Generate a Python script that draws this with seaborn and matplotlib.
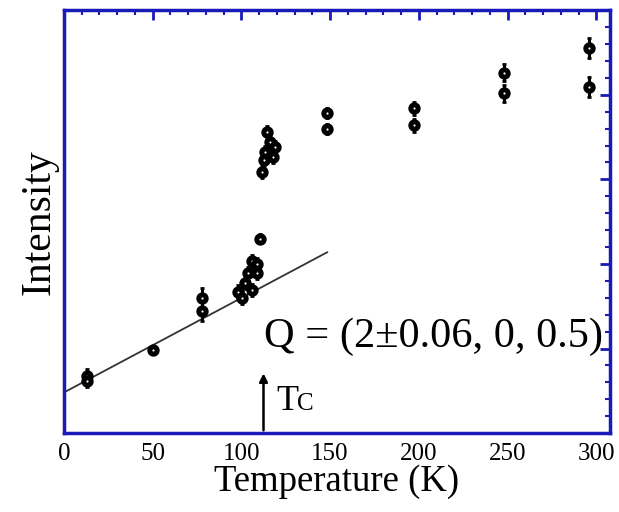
import numpy as np
import pandas as pd
import matplotlib
matplotlib.use("Agg")
import matplotlib.pyplot as plt
import seaborn as sns

# Data (arbitrary intensity units)
temperature = [13, 13, 50, 78, 78, 98, 100.6, 102, 104, 106, 106, 109, 109, 110.8,
               111.7, 112.6, 113.6, 114.7, 116.4, 118, 119,
               148, 148, 197, 197, 248, 248, 296, 296]
intensity = [0.68, 0.62, 0.98, 1.60, 1.45, 1.67, 1.60, 1.77, 1.89, 1.69, 2.04, 1.89, 2.00, 2.30,
             3.09, 3.23, 3.32, 3.56, 3.44, 3.26, 3.38,
             3.79, 3.60, 3.84, 3.64, 4.26, 4.02, 4.55, 4.09]
errors = [0.08, 0.08, 0.05, 0.12, 0.12, 0.08, 0.07, 0.07, 0.07, 0.07, 0.07, 0.07, 0.07, 0.05,
          0.07, 0.07, 0.07, 0.07, 0.07, 0.07, 0.07,
          0.06, 0.06, 0.08, 0.08, 0.10, 0.10, 0.12, 0.12]
fit_T = [0, 148.5]
fit_I = [0.48, 2.14]
tc = 112.5
xticks = [0, 50, 100, 150, 200, 250, 300]

df = pd.DataFrame({"T": temperature, "I": intensity, "err": errors})

sns.set_style("white")
plt.rcParams['font.family'] = ['Liberation Serif', 'DejaVu Serif']
plt.rcParams['text.color'] = 'black'
plt.rcParams['axes.labelcolor'] = 'black'
plt.rcParams['xtick.labelcolor'] = 'black'
plt.rcParams['ytick.labelcolor'] = 'black'

fig = plt.figure(figsize=(6.19, 5.12), dpi=100)
ax = fig.add_axes([0.103, 0.154, 0.882, 0.826])

blue = '#1a1ab8'

sns.lineplot(x=fit_T, y=fit_I, ax=ax, color='#333333', lw=1.3)
ax.errorbar(df["T"], df["I"], yerr=df["err"], fmt='none', ecolor='black', elinewidth=2.2,
            capsize=1.5, capthick=2, zorder=3)
sns.scatterplot(data=df, x="T", y="I", ax=ax, marker='o', s=28, facecolor='white',
                edgecolor='black', linewidth=3.6, zorder=4)

ax.set_xlim(0, 307.5)
ax.set_ylim(0, 5)
ax.set_xticks(xticks)
ax.set_xticks(np.arange(0, 310, 10), minor=True)
ax.set_yticks([1, 2, 3, 4])
ax.set_yticks(np.arange(0, 5.01, 0.2), minor=True)
ax.set_yticklabels([])
ax.tick_params(axis='both', which='major', direction='in', length=7, width=2, color=blue,
               top=True, right=True, labelsize=18, pad=7, labelcolor='black')
ax.tick_params(axis='both', which='minor', direction='in', length=3.5, width=1.5, color=blue,
               top=True, right=True)
for s in ax.spines.values():
    s.set_color(blue)
    s.set_linewidth(2.5)

ax.set_xlabel("Temperature (K)", fontsize=26.5, labelpad=0, color='black')
ax.set_ylabel("Intensity", fontsize=30, labelpad=-3, color='black')

ax.annotate("", xy=(tc, 0.74), xytext=(tc, 0.0),
            arrowprops=dict(arrowstyle='-|>', color='black', lw=1.8, mutation_scale=12))
ax.text(119.5, 0.27, "T", fontsize=26, va='baseline', ha='left', color='black')
ax.text(131.5, 0.27, "C", fontsize=18, va='baseline', ha='left', color='black')
ax.text(113.0, 1.02, "Q = (2±0.06, 0, 0.5)", fontsize=30.5, va='baseline', ha='left',
        color='black')

fig.savefig("out.png", dpi=100)
